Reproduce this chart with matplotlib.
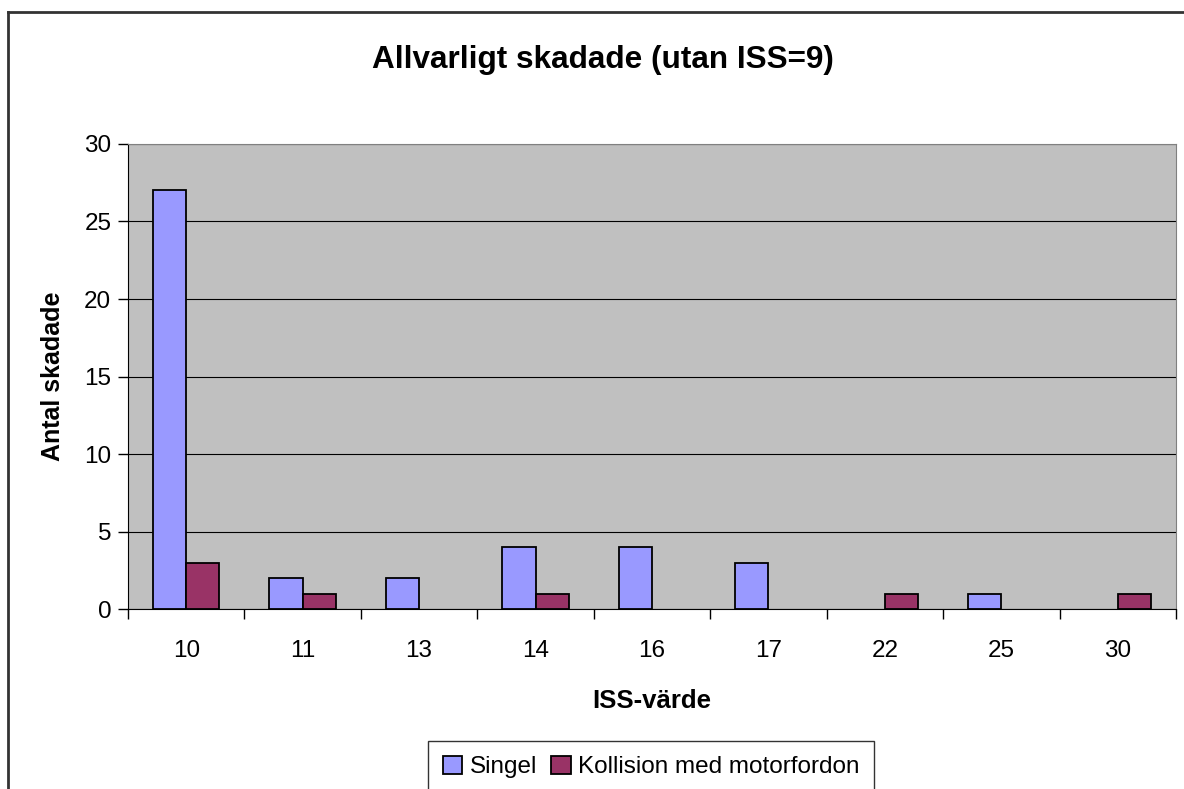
import numpy as np
import matplotlib
matplotlib.use("Agg")
import matplotlib.pyplot as plt
from matplotlib.lines import Line2D

plt.rcParams['font.family'] = ['Liberation Sans', 'DejaVu Sans']

# data
iss_varden = ["10", "11", "13", "14", "16", "17", "22", "25", "30"]
singel = [27, 2, 2, 4, 4, 3, 0, 1, 0]
kollision = [3, 1, 0, 1, 0, 0, 1, 0, 1]

fig = plt.figure(figsize=(11.84, 7.89), dpi=100)
ax = fig.add_axes([0.1081, 0.2281, 0.8851, 0.5894])
ax.set_facecolor("#C0C0C0")

x = np.arange(len(iss_varden))
w = 0.285
b1 = ax.bar(x - w / 2, singel, w, color="#9999FF", edgecolor="black", linewidth=1.3,
            label="Singel", zorder=3)
b2 = ax.bar(x + w / 2, kollision, w, color="#993366", edgecolor="black", linewidth=1.3,
            label="Kollision med motorfordon", zorder=3)
# tomma staplar syns inte
for bars in (b1, b2):
    for p in bars:
        if p.get_height() == 0:
            p.set_visible(False)

ax.set_xlim(-0.5, len(iss_varden) - 0.5)
ax.set_ylim(0, 30)
ax.set_yticks(range(0, 31, 5))
ax.yaxis.grid(True, color="black", linewidth=0.8, zorder=0)

# ticks on category borders, labels in the middle
ax.set_xticks(np.arange(-0.5, len(iss_varden), 1))
ax.set_xticklabels([])
ax.set_xticks(x, minor=True)
ax.set_xticklabels(iss_varden, minor=True)
ax.tick_params(axis="x", which="minor", length=0, labelsize=17.5, pad=22)
ax.tick_params(axis="x", which="major", length=7, width=1, color="black")
ax.tick_params(axis="y", length=7, width=1, labelsize=17.5, pad=5)

for s in ["top", "right"]:
    ax.spines[s].set_color("#808080")
ax.spines["left"].set_color("black")
ax.spines["bottom"].set_color("black")

ax.set_xlabel("ISS-värde", fontsize=18.5, fontweight="bold", labelpad=20)
ax.set_ylabel("Antal skadade", fontsize=18, fontweight="bold", labelpad=14)
fig.text(0.509, 0.924, "Allvarligt skadade (utan ISS=9)", fontsize=22.7,
         fontweight="bold", ha="center", va="center")

fig.legend(loc="center", bbox_to_anchor=(0.55, 0.028), ncol=2, fontsize=17.5,
           frameon=True, fancybox=False, edgecolor="black", handlelength=0.8,
           handleheight=0.8, handletextpad=0.3, columnspacing=0.6,
           borderpad=0.6).get_frame().set_linewidth(1)

# chart border (left and top only visible)
fig.add_artist(Line2D([8 / 1184, 8 / 1184], [0, 1 - 12 / 789], color="#333333",
                      linewidth=2, transform=fig.transFigure))
fig.add_artist(Line2D([8 / 1184, 1], [1 - 12 / 789, 1 - 12 / 789], color="#333333",
                      linewidth=2, transform=fig.transFigure))

fig.savefig("out.png", dpi=100)
